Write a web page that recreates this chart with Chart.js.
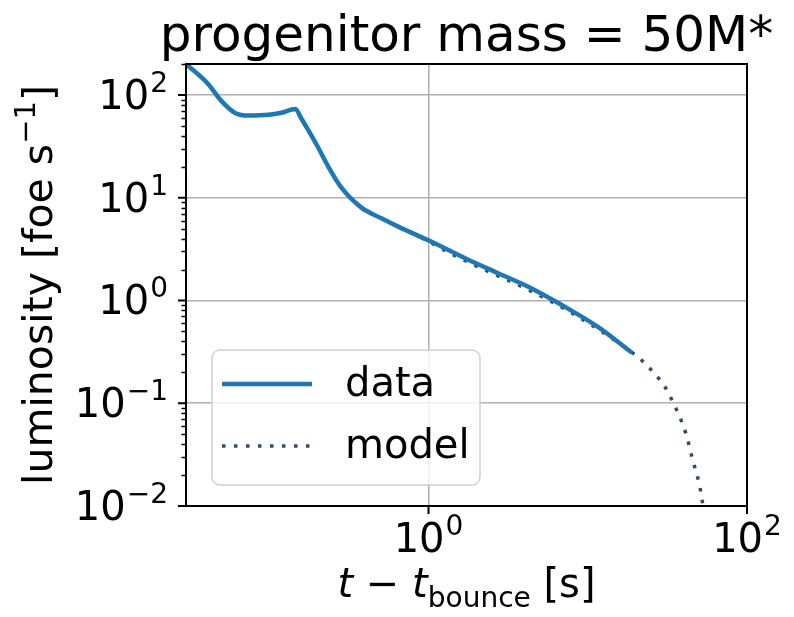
<!DOCTYPE html>
<html>
<head>
<meta charset="utf-8">
<script src="https://cdn.jsdelivr.net/npm/chart.js@4.4.1/dist/chart.umd.min.js"></script>
<style>
    html, body { margin: 0; padding: 0; background: #fff; }
    #wrap { width: 794px; height: 617px; }
</style>
</head>
<body>
<div id="wrap"><canvas id="lumChart" width="794" height="617"></canvas></div>
<script>
// luminosity curve (foe/s) vs time since bounce (s)
var dataTime = [0.03, 0.0413, 0.05, 0.061, 0.074, 0.099, 0.119, 0.146, 0.158, 0.175, 0.2, 0.235, 0.284, 0.379, 0.506, 0.65, 0.75, 1.0, 1.71, 2.76, 4.44, 6.57, 11.7, 18.9];
var dataLum = [200, 128, 87.5, 66.8, 63, 64, 67, 73, 60, 46, 32, 20, 12.5, 8.0, 6.3, 5.2, 4.7, 3.85, 2.56, 1.83, 1.31, 0.94, 0.547, 0.31];

// fitted model
var modelTime = [0.9, 1.34, 2.15, 4.07, 8.0, 16.4, 21.9, 30.9, 33.8, 41.3, 45.1, 51.4, 56];
var modelLum = [4.1, 2.93, 2.05, 1.31, 0.75, 0.366, 0.26, 0.14, 0.107, 0.051, 0.030, 0.0134, 0.005];

var xTicks = [1, 100];
var xExps = ['0', '2'];
var yTicks = [0.01, 0.1, 1, 10, 100];
var yExps = ['\u22122', '\u22121', '0', '1', '2'];

var FONT = "'DejaVu Sans', sans-serif";
var dataColor = '#1f77b4';
var modelColor = '#2f4d6d';

function points(xs, ys) {
    return xs.map(function (x, i) { return { x: x, y: ys[i] }; });
}

// "10" with a raised exponent
function powLabel(ctx, exp, x, y, align) {
    ctx.font = '40px ' + FONT;
    var wb = ctx.measureText('10').width;
    ctx.font = '28px ' + FONT;
    var we = ctx.measureText(exp).width;
    var start = align === 'right' ? x - wb - we - 1 : x - (wb + we + 1) / 2;
    ctx.textAlign = 'left';
    ctx.textBaseline = 'alphabetic';
    ctx.font = '40px ' + FONT;
    ctx.fillText('10', start, y);
    ctx.font = '28px ' + FONT;
    ctx.fillText(exp, start + wb + 1, y - 17);
}

// draw a list of [text, font, dy] pieces centred on x
function pieces(ctx, parts, x, y) {
    var total = 0;
    parts.forEach(function (p) { ctx.font = p[1]; total += ctx.measureText(p[0]).width; });
    var cx = x - total / 2;
    ctx.textAlign = 'left';
    ctx.textBaseline = 'alphabetic';
    parts.forEach(function (p) {
        ctx.font = p[1];
        ctx.fillText(p[0], cx, y + (p[2] || 0));
        cx += ctx.measureText(p[0]).width;
    });
}

var decorations = {
    id: 'decorations',
    afterDatasetsDraw: function (chart) {
        var ctx = chart.ctx, a = chart.chartArea;
        ctx.save();
        ctx.strokeStyle = '#000';
        ctx.lineWidth = 2;
        ctx.strokeRect(a.left, a.top, a.right - a.left, a.bottom - a.top);
        ctx.restore();
    },
    afterDraw: function (chart) {
        var ctx = chart.ctx, a = chart.chartArea;
        var xs = chart.scales.x, ys = chart.scales.y;
        ctx.save();
        ctx.fillStyle = '#000';
        ctx.strokeStyle = '#000';

        // tick marks
        ctx.lineWidth = 2;
        ctx.beginPath();
        yTicks.forEach(function (v) {
            var py = ys.getPixelForValue(v);
            ctx.moveTo(a.left - 8, py); ctx.lineTo(a.left, py);
        });
        ctx.stroke();
        ctx.lineWidth = 1.3;
        ctx.beginPath();
        for (var d = 0.01; d < 200; d *= 10) {
            for (var m = 2; m <= 9; m++) {
                var v = d * m;
                if (v > 200) break;
                var py = Math.round(ys.getPixelForValue(v)) + 0.5;
                ctx.moveTo(a.left - 4.5, py); ctx.lineTo(a.left, py);
            }
        }
        ctx.stroke();
        ctx.lineWidth = 2;
        ctx.beginPath();
        xTicks.forEach(function (v) {
            var px = xs.getPixelForValue(v);
            ctx.moveTo(px, a.bottom); ctx.lineTo(px, a.bottom + 8);
        });
        ctx.stroke();

        // tick labels
        yTicks.forEach(function (v, i) {
            powLabel(ctx, yExps[i], a.left - 18, ys.getPixelForValue(v) + 14, 'right');
        });
        xTicks.forEach(function (v, i) {
            powLabel(ctx, xExps[i], xs.getPixelForValue(v), a.bottom + 46, 'center');
        });

        // title
        ctx.font = '50px ' + FONT;
        ctx.textAlign = 'center';
        ctx.textBaseline = 'alphabetic';
        ctx.fillText('progenitor mass = 50M*', (a.left + a.right) / 2, 51);

        // axis titles
        pieces(ctx, [
            ['t', 'italic 40px ' + FONT],
            [' \u2212 ', '40px ' + FONT],
            ['t', 'italic 40px ' + FONT],
            ['bounce', '28px ' + FONT, 10],
            [' [s]', '40px ' + FONT]
        ], (a.left + a.right) / 2, 597);

        ctx.save();
        ctx.translate(52, (a.top + a.bottom) / 2);
        ctx.rotate(-Math.PI / 2);
        pieces(ctx, [
            ['luminosity [foe s', '41px ' + FONT],
            ['\u22121', '29px ' + FONT, -17],
            [']', '41px ' + FONT]
        ], 0, 0);
        ctx.restore();

        // legend
        var bx = 212, by = 350, bw = 268, bh = 135, r = 8;
        ctx.beginPath();
        ctx.moveTo(bx + r, by);
        ctx.arcTo(bx + bw, by, bx + bw, by + bh, r);
        ctx.arcTo(bx + bw, by + bh, bx, by + bh, r);
        ctx.arcTo(bx, by + bh, bx, by, r);
        ctx.arcTo(bx, by, bx + bw, by, r);
        ctx.closePath();
        ctx.fillStyle = 'rgba(255,255,255,0.8)';
        ctx.fill();
        ctx.strokeStyle = '#d0d0d0';
        ctx.lineWidth = 1.5;
        ctx.stroke();

        var sets = chart.data.datasets;
        var rows = [384, 446];
        sets.forEach(function (ds, i) {
            ctx.beginPath();
            ctx.strokeStyle = ds.borderColor;
            ctx.lineWidth = ds.borderWidth;
            ctx.setLineDash(ds.borderDash || []);
            ctx.moveTo(222, rows[i]); ctx.lineTo(312, rows[i]);
            ctx.stroke();
            ctx.setLineDash([]);
            ctx.fillStyle = '#000';
            ctx.font = '40px ' + FONT;
            ctx.textAlign = 'left';
            ctx.textBaseline = 'middle';
            ctx.fillText(ds.label, 345, rows[i] + 2);
        });
        ctx.restore();
    }
};

var gridColor = '#b0b0b0';

new Chart(document.getElementById('lumChart').getContext('2d'), {
    type: 'line',
    data: {
        datasets: [
            {
                label: 'data',
                data: points(dataTime, dataLum),
                borderColor: dataColor,
                borderWidth: 4.5,
                pointRadius: 0,
                cubicInterpolationMode: 'monotone',
                fill: false
            },
            {
                label: 'model',
                data: points(modelTime, modelLum),
                borderColor: modelColor,
                borderWidth: 3.5,
                borderDash: [3.5, 8.5],
                pointRadius: 0,
                cubicInterpolationMode: 'monotone',
                fill: false
            }
        ]
    },
    options: {
        responsive: false,
        animation: false,
        layout: { padding: { top: 64, right: 47, left: 0, bottom: 0 } },
        plugins: {
            legend: { display: false },
            title: { display: false },
            tooltip: { enabled: false }
        },
        scales: {
            x: {
                type: 'logarithmic',
                min: 0.03,
                max: 100,
                afterBuildTicks: function (axis) {
                    axis.ticks = xTicks.map(function (v) { return { value: v }; });
                },
                afterFit: function (axis) { axis.height = 111; },
                ticks: { display: false },
                grid: { color: gridColor, lineWidth: 1.5, drawTicks: false },
                border: { display: false }
            },
            y: {
                type: 'logarithmic',
                min: 0.01,
                max: 200,
                afterBuildTicks: function (axis) {
                    axis.ticks = yTicks.map(function (v) { return { value: v }; });
                },
                afterFit: function (axis) { axis.width = 186; },
                ticks: { display: false },
                grid: { color: gridColor, lineWidth: 1.5, drawTicks: false },
                border: { display: false }
            }
        }
    },
    plugins: [decorations]
});
</script>
</body>
</html>
